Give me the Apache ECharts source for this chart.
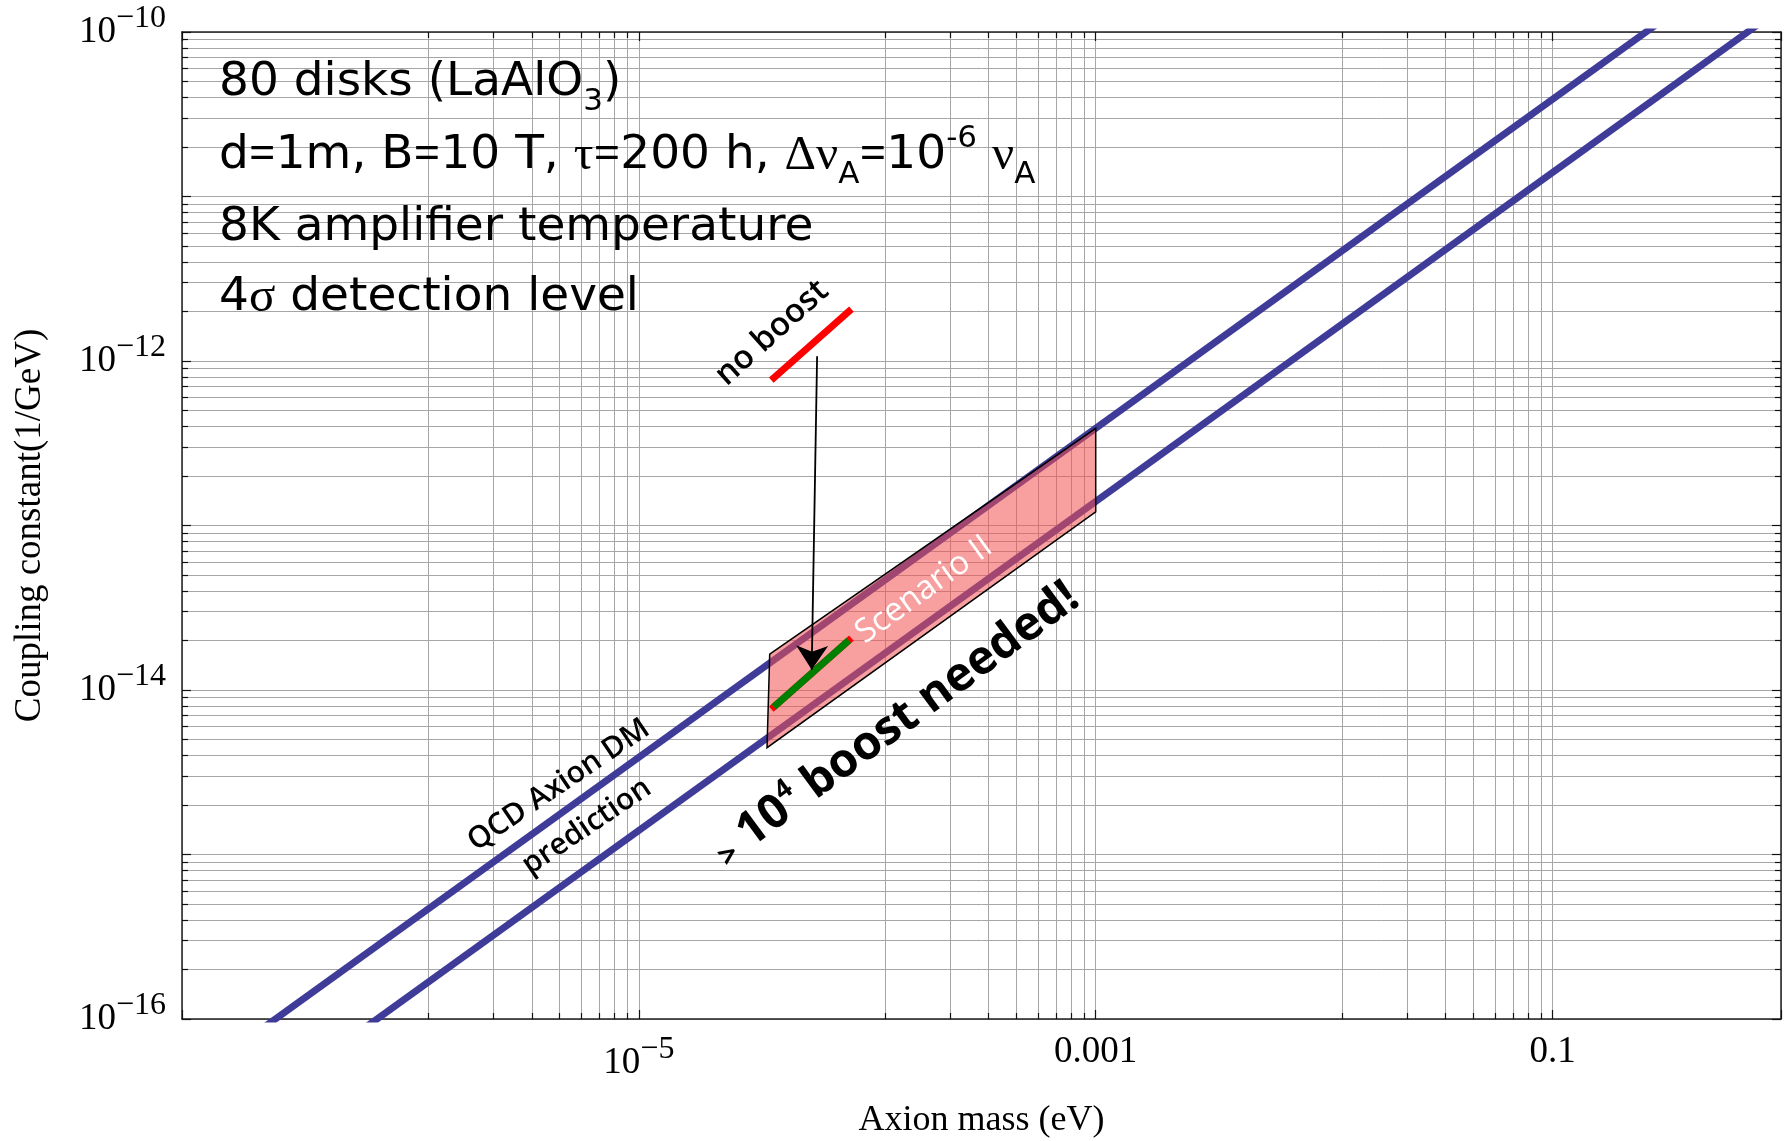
<!DOCTYPE html>
<html>
<head>
<meta charset="utf-8">
<script src="https://cdn.jsdelivr.net/npm/echarts@6/dist/echarts.min.js"></script>
<style>
html,body{margin:0;padding:0;background:#fff;}
#chart{width:1789px;height:1141px;}
</style>
</head>
<body>
<div id="chart"></div>
<script>
// ---------------- data ----------------
// QCD axion dark-matter prediction band edges: [axion mass (eV), coupling (1/GeV)]
const qcdUpper = [[1e-7, 3.9e-17], [1, 3.9e-10]];
const qcdLower = [[1e-7, 1.4e-17], [1, 1.4e-10]];
// "Scenario II" parallelogram corners
const scenarioBox = [[3.74e-5, 1.65e-14], [1e-3, 3.9e-13], [1e-3, 1.21e-13], [3.64e-5, 4.46e-15]];
// sensitivity without boost (red) and with boost (green)
const noBoost = [[3.9e-5, 7.9e-13], [8.3e-5, 2.0e-12]];
const withBoost = [[3.9e-5, 7.9e-15], [8.3e-5, 2.0e-14]];
// arrow from "no boost" to "boost"
const arrowFrom = [6.03e-5, 1.07e-12];
const arrowTo = [5.71e-5, 1.33e-14];

// tick labels
const xTickExponents = [-7, -5, -3, -1];
const xTickTexts = ['', '10^\u22125', '0.001', '0.1'];
const yTickExponents = [-16, -15, -14, -13, -12, -11, -10];
const yTickTexts = ['10^\u221216', '', '10^\u221214', '', '10^\u221212', '', '10^\u221210'];

// ---------------- chart ----------------
const SERIF = 'Liberation Serif';
const tickRich = {
  b: {fontFamily: SERIF, fontSize: 37, color: '#000'},
  s: {fontFamily: SERIF, fontSize: 32, color: '#000', padding: [0, 0, 27, 0]}
};
function toRich(t) {
  if (!t) return '';
  const i = t.indexOf('^');
  if (i < 0) return '{b|' + t + '}';
  return '{b|' + t.slice(0, i) + '}{s|' + t.slice(i + 1) + '}';
}
function makeFormatter(exps, texts) {
  return function (v) {
    const e = Math.round(Math.log10(v));
    const k = exps.indexOf(e);
    return k < 0 ? '' : toRich(texts[k]);
  };
}

const gridColor = '#a6a6a6';
const axisLineStyle = {color: '#222', width: 1.5};
const tickStyle = {color: '#111', width: 1.2};

function baseAxis(extra) {
  return Object.assign({
    type: 'log',
    logBase: 10,
    axisLine: {show: true, onZero: false, lineStyle: axisLineStyle},
    axisTick: {show: true, inside: true, length: 9, lineStyle: tickStyle},
    minorTick: {show: true, splitNumber: 9, length: 6, lineStyle: tickStyle},
    splitLine: {show: false},
    minorSplitLine: {show: false},
    axisLabel: {show: false}
  }, extra);
}

const xMain = baseAxis({
  position: 'bottom', min: 1e-7, max: 1, interval: 2,
  splitLine: {show: true, lineStyle: {color: gridColor, width: 1}},
  minorSplitLine: {show: true, lineStyle: {color: gridColor, width: 1}},
  axisLabel: {show: true, margin: 15, formatter: makeFormatter(xTickExponents, xTickTexts), rich: tickRich, showMinLabel: true, showMaxLabel: true},
  name: 'Axion mass (eV)', nameLocation: 'middle', nameGap: 84,
  nameTextStyle: {fontFamily: SERIF, fontSize: 36, color: '#000'}
});
const xTop = baseAxis({position: 'top', min: 1e-7, max: 1, interval: 2});
const yMain = baseAxis({
  position: 'left', min: 1e-16, max: 1e-10, interval: 1,
  splitLine: {show: true, lineStyle: {color: gridColor, width: 1}},
  minorSplitLine: {show: true, lineStyle: {color: gridColor, width: 1}},
  axisLabel: {show: true, margin: 16, formatter: makeFormatter(yTickExponents, yTickTexts), rich: tickRich, showMinLabel: true, showMaxLabel: true},
  name: 'Coupling constant(1/GeV)', nameLocation: 'middle', nameGap: 133, nameRotate: 90,
  nameTextStyle: {fontFamily: SERIF, fontSize: 37, color: '#000'}
});
const yRight = baseAxis({position: 'right', min: 1e-16, max: 1e-10, interval: 1});

const BLUE = '#3f3c99';

const DEJA = 'DejaVu Sans';
const blockRich = {
  m: {fontFamily: DEJA, fontSize: 47, fill: '#000', color: '#000'},
  e: {fontFamily: 'Open Sans', fontSize: 47, fill: '#000', color: '#000'},
  g: {fontFamily: SERIF, fontSize: 49, fill: '#000', color: '#000'},
  sub: {fontFamily: DEJA, fontSize: 31, fill: '#000', color: '#000', padding: [38, 0, 0, 0]},
  sup: {fontFamily: DEJA, fontSize: 31, fill: '#000', color: '#000', padding: [0, 0, 34, 0]}
};
function txt(x, y, rotDeg, text, style) {
  return {
    type: 'text', x: x, y: y, rotation: rotDeg * Math.PI / 180, z: 100, silent: true,
    style: Object.assign({text: text, align: 'center', verticalAlign: 'middle',
      textAlign: 'center', textVerticalAlign: 'middle'}, style)
  };
}
const leftStyle = {align: 'left', textAlign: 'left', rich: blockRich, fill: '#000'};
const annFont = {fontFamily: 'Open Sans', fontWeight: 600, fill: '#000'};

const option = {
  animation: false,
  backgroundColor: '#fff',
  grid: {left: 182, top: 32, right: 8, bottom: 122, containLabel: false, outerBoundsMode: 'none'},
  xAxis: [xMain, xTop],
  yAxis: [yMain, yRight],
  series: [
    {type: 'line', name: 'QCD upper', data: qcdUpper, xAxisIndex: 0, yAxisIndex: 0,
      symbol: 'none', silent: true, z: 2, lineStyle: {color: BLUE, width: 7}},
    {type: 'line', name: 'QCD lower', data: qcdLower, xAxisIndex: 0, yAxisIndex: 0,
      symbol: 'none', silent: true, z: 2, lineStyle: {color: BLUE, width: 7}},
    {type: 'custom', name: 'Scenario II', data: scenarioBox, xAxisIndex: 0, yAxisIndex: 0,
      silent: true, z: 3,
      renderItem: function (params, api) {
        if (params.dataIndex !== 0) return null;
        return {
          type: 'polygon',
          shape: {points: scenarioBox.map(function (p) { return api.coord(p); })},
          style: {fill: 'rgba(242,79,79,0.54)', stroke: '#000', lineWidth: 1.5}
        };
      }},
    {type: 'line', name: 'no boost', data: noBoost, xAxisIndex: 0, yAxisIndex: 0,
      symbol: 'none', silent: true, z: 4, lineStyle: {color: '#ff0000', width: 7, cap: 'square'}},
    {type: 'line', name: 'boost under', data: withBoost, xAxisIndex: 0, yAxisIndex: 0,
      symbol: 'none', silent: true, z: 4, lineStyle: {color: '#ff0000', width: 7, cap: 'square'}},
    {type: 'line', name: 'boost', data: withBoost, xAxisIndex: 0, yAxisIndex: 0,
      symbol: 'none', silent: true, z: 5, lineStyle: {color: '#008000', width: 7, cap: 'butt'},
      markLine: {
        silent: true, symbol: ['none', 'arrow'], symbolSize: 24, z: 6,
        label: {show: false},
        lineStyle: {color: '#000', width: 1.8, type: 'solid'},
        data: [[{coord: arrowFrom}, {coord: arrowTo}]]
      }}
  ],
  graphic: {elements: [
    txt(219, 83, 0, '{m|80 disks (LaAlO}{sub|3}{m|)}', leftStyle),
    txt(219, 156, 0, '{m|d}{e|=}{m|1m, B}{e|=}{m|10 T, }{g|\u03c4}{e|=}{m|200 h, }{g|\u0394\u03bd}{sub|A}{e|=}{m|10}{sup|-6}{m| }{g|\u03bd}{sub|A}', leftStyle),
    txt(219, 228, 0, '{m|8K amplifier temperature}', leftStyle),
    txt(219, 298, 0, '{m|4}{g|\u03c3}{m| detection level}', leftStyle),
    txt(772, 333, 42, 'no boost', Object.assign({fontSize: 33}, annFont)),
    txt(572.7, 805.9, 34, 'QCD Axion DM\nprediction', Object.assign({fontSize: 30, lineHeight: 50}, annFont)),
    txt(924, 590, 35.8, 'Scenario II', {fontFamily: 'Open Sans', fontSize: 33, fill: '#fff'}),
    txt(896, 724, 36.5, '{gt|>}{n| 10}{sp|4}{n| boost needed!}', {
      rich: {
        gt: {fontFamily: 'Open Sans', fontWeight: 'bold', fontSize: 31, fill: '#000', padding: [14, 0, 0, 0]},
        n: {fontFamily: 'Open Sans', fontWeight: 'bold', fontSize: 47, fill: '#000'},
        sp: {fontFamily: 'Open Sans', fontWeight: 'bold', fontSize: 27, fill: '#000', padding: [0, 0, 27, 0]}
      }
    })
  ]}
};

const chart = echarts.init(document.getElementById('chart'), null, {renderer: 'canvas'});
chart.setOption(option);
</script>
</body>
</html>
